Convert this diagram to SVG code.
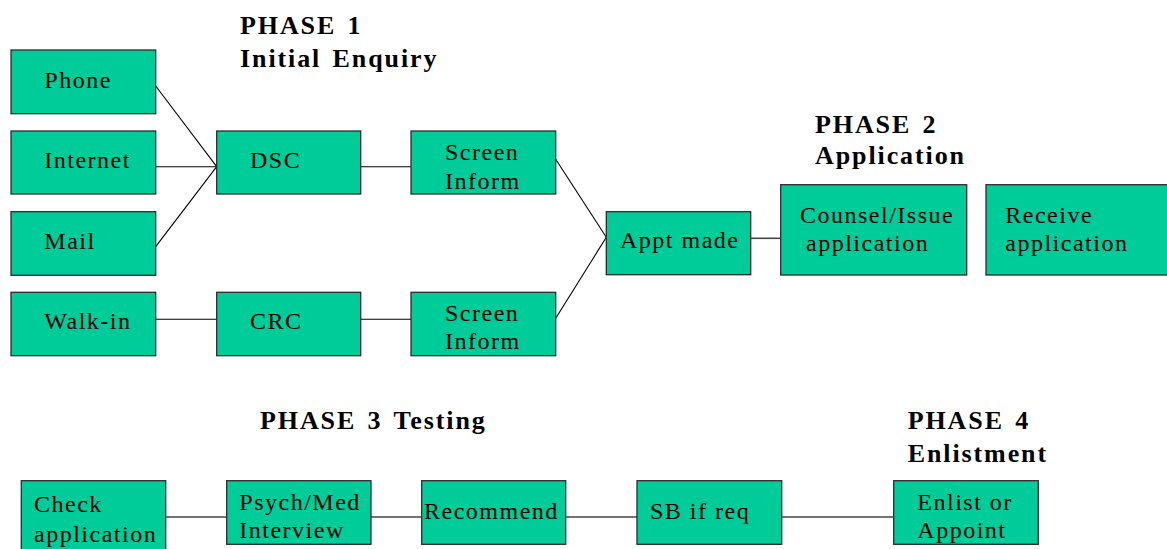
<svg xmlns="http://www.w3.org/2000/svg" width="1167" height="549" viewBox="0 0 1167 549">
<style>
.box{fill:#00CC99;stroke:#2b2b2b;stroke-width:1.3}
.t{font-size:24px;letter-spacing:1.5px;fill:#000}
.h{font-size:26px;font-weight:bold;letter-spacing:1.9px;word-spacing:3px;fill:#000}
.c{stroke:#000;stroke-width:1.1;fill:none}
.c2{stroke:#444;stroke-width:1.6;fill:none}
</style>
<rect width="1167" height="549" fill="#fff"/>
<g id="headers" font-family="'Liberation Serif', 'DejaVu Serif', serif">
<text class="h" x="240" y="34">PHASE 1</text>
<text class="h" x="240" y="66.5">Initial Enquiry</text>
<text class="h" x="815" y="132.7">PHASE 2</text>
<text class="h" x="815" y="164">Application</text>
<text class="h" x="260" y="429">PHASE 3 Testing</text>
<text class="h" x="907.7" y="429">PHASE 4</text>
<text class="h" x="907.7" y="461.5">Enlistment</text>
</g>
<g id="connectors">
<line class="c" x1="155.7" y1="86" x2="216.7" y2="166.7"/>
<line class="c" x1="155.7" y1="166.7" x2="216.7" y2="166.7"/>
<line class="c" x1="155.7" y1="246.7" x2="216.7" y2="166.7"/>
<line class="c" x1="360.7" y1="166.7" x2="411" y2="166.7"/>
<line class="c" x1="155.7" y1="319.3" x2="216.7" y2="319.3"/>
<line class="c" x1="360.7" y1="319.3" x2="411" y2="319.3"/>
<line class="c" x1="555.7" y1="159.3" x2="606.3" y2="237.3"/>
<line class="c" x1="555.7" y1="318.3" x2="606.3" y2="237.3"/>
<line class="c2" x1="750.7" y1="238.3" x2="780.7" y2="238.3"/>
<line class="c2" x1="165.7" y1="517" x2="226.7" y2="517"/>
<line class="c2" x1="371" y1="517" x2="421.7" y2="517"/>
<line class="c2" x1="565.7" y1="517" x2="637" y2="517"/>
<line class="c2" x1="781.7" y1="517" x2="893.7" y2="517"/>
</g>
<g font-family="'Liberation Serif', 'DejaVu Serif', serif">
<g id="phone"><rect class="box" x="11" y="50" width="144.7" height="63.7"/><text class="t" x="44.3" y="88.3">Phone</text></g>
<g id="internet"><rect class="box" x="11" y="131" width="144.7" height="63"/><text class="t" x="44.3" y="168.3">Internet</text></g>
<g id="mail"><rect class="box" x="11" y="211.7" width="144.7" height="63.6"/><text class="t" x="44.3" y="249.3">Mail</text></g>
<g id="walkin"><rect class="box" x="11" y="292.3" width="144.7" height="63.4"/><text class="t" x="44.3" y="329.3">Walk-in</text></g>
<g id="dsc"><rect class="box" x="216.7" y="131" width="144" height="63"/><text class="t" x="250" y="168.3">DSC</text></g>
<g id="crc"><rect class="box" x="216.7" y="292.3" width="144" height="63.4"/><text class="t" x="250" y="329.3">CRC</text></g>
<g id="screen1"><rect class="box" x="411" y="131" width="144.7" height="63"/><text class="t" x="445" y="160">Screen</text><text class="t" x="445" y="189">Inform</text></g>
<g id="screen2"><rect class="box" x="411" y="292.3" width="144.7" height="63.4"/><text class="t" x="445" y="320.7">Screen</text><text class="t" x="445" y="349.3">Inform</text></g>
<g id="appt"><rect class="box" x="606.3" y="211.7" width="144.4" height="63"/><text class="t" x="620" y="248.3">Appt made</text></g>
<g id="counsel"><rect class="box" x="780.7" y="184.7" width="186" height="90.3"/><text class="t" x="800" y="222.7">Counsel/Issue</text><text class="t" x="806" y="250.7">application</text></g>
<g id="receive"><rect class="box" x="986" y="184.7" width="190" height="90.3"/><text class="t" x="1005.3" y="222.7">Receive</text><text class="t" x="1005.3" y="250.7">application</text></g>
<g id="check"><rect class="box" x="21.3" y="480.7" width="144.4" height="80"/><text class="t" x="34" y="512">Check</text><text class="t" x="34" y="541.7">application</text></g>
<g id="psych"><rect class="box" x="226.7" y="480.7" width="144.3" height="63.6"/><text class="t" x="239.3" y="510">Psych/Med</text><text class="t" x="239.3" y="538">Interview</text></g>
<g id="recommend"><rect class="box" x="421.7" y="480.7" width="144" height="63.6"/><text class="t" x="424" y="519">Recommend</text></g>
<g id="sb"><rect class="box" x="637" y="480.7" width="144.7" height="63.6"/><text class="t" x="650" y="519">SB if req</text></g>
<g id="enlist"><rect class="box" x="893.7" y="480.7" width="144.6" height="63.6"/><text class="t" x="917.3" y="510">Enlist or</text><text class="t" x="917.3" y="538">Appoint</text></g>
</g>
</svg>
